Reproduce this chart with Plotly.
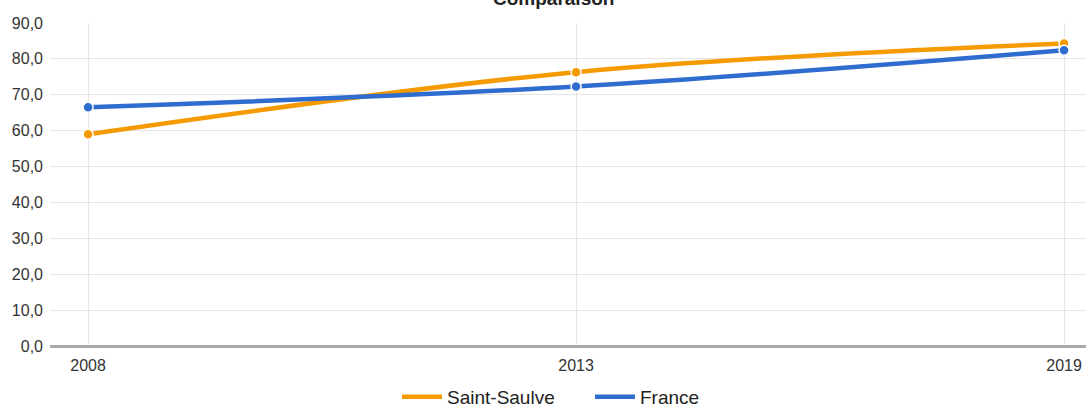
import plotly.graph_objects as go

years = ["2008", "2013", "2019"]
saint_saulve = [59.0, 76.3, 84.3]
france = [66.5, 72.3, 82.4]
y_ticks = [0, 10, 20, 30, 40, 50, 60, 70, 80, 90]

ORANGE = "#f59a00"
BLUE = "#2f6ccf"
FONT = "Liberation Sans, Arial, sans-serif"

fig = go.Figure()
for name, vals, col in [("Saint-Saulve", saint_saulve, ORANGE), ("France", france, BLUE)]:
    fig.add_trace(go.Scatter(
        x=years, y=vals, name=name, mode="lines",
        line=dict(color=col, width=4.5, shape="spline", smoothing=1.0),
        hoverinfo="skip",
    ))
for name, vals, col in [("Saint-Saulve", saint_saulve, ORANGE), ("France", france, BLUE)]:
    fig.add_trace(go.Scatter(
        x=years, y=vals, name=name, mode="markers", showlegend=False,
        marker=dict(color=col, size=10, line=dict(color="white", width=1.5)),
        cliponaxis=False,
    ))

fig.add_annotation(
    text="<b>Comparaison</b>", xref="paper", yref="paper", x=(553 - 50) / 1036, y=1,
    xanchor="center", yanchor="middle", yshift=25, showarrow=False,
    font=dict(size=19, color="#222", family=FONT),
)

fig.update_layout(
    width=1086, height=408,
    margin=dict(l=50, r=0, t=23, b=62),
    paper_bgcolor="white", plot_bgcolor="white",
    separators=", ",
    font=dict(family=FONT, size=16, color="#444"),
    xaxis=dict(type="category", range=[-0.078, 2.045], showgrid=True, automargin=False,
               gridcolor="#e6e6e6", gridwidth=1, zeroline=False, showline=False,
               ticks="", ticklabelstandoff=8, tickfont=dict(size=16, color="#333")),
    yaxis=dict(range=[0, 90], tickvals=y_ticks, tickformat=".1f", showgrid=True, automargin=False,
               gridcolor="#e6e6e6", gridwidth=1, zeroline=True, zerolinecolor="#aaaaaa",
               zerolinewidth=2.5, showline=False, ticks="", ticklabelstandoff=6,
               tickfont=dict(size=16, color="#333")),
    legend=dict(orientation="h", x=397/1086, xanchor="left", xref="container",
                y=11/408, yref="container", yanchor="middle",
                font=dict(size=19, color="#222"), itemwidth=40,
                entrywidth=138, entrywidthmode="pixels",
                bgcolor="rgba(0,0,0,0)"),
    showlegend=True,
)

fig.write_html("out.html", config={"displayModeBar": False},
               post_script="document.body.style.margin='0';document.body.style.overflow='hidden';")
